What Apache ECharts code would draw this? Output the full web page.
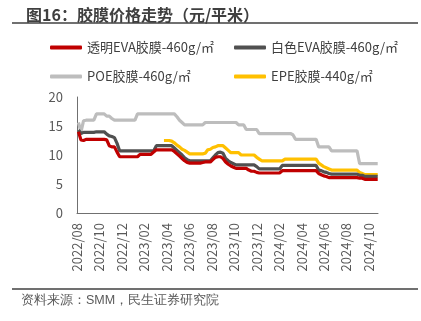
<!DOCTYPE html>
<html>
<head>
<meta charset="utf-8">
<script src="https://cdn.jsdelivr.net/npm/echarts@6/dist/echarts.min.js"></script>
<style>
html,body{margin:0;padding:0;background:#fff;}
#c{width:421px;height:321px;}
</style>
</head>
<body>
<div id="c"></div>
<script>
// Weekly dates (Fridays)
const dates = [
'2022-08-05','2022-08-12','2022-08-19','2022-08-26','2022-09-02','2022-09-09','2022-09-16','2022-09-23','2022-09-30',
'2022-10-07','2022-10-14','2022-10-21','2022-10-28','2022-11-04','2022-11-11','2022-11-18','2022-11-25',
'2022-12-02','2022-12-09','2022-12-16','2022-12-23','2022-12-30',
'2023-01-06','2023-01-13','2023-01-20','2023-01-27','2023-02-03','2023-02-10','2023-02-17','2023-02-24',
'2023-03-03','2023-03-10','2023-03-17','2023-03-24','2023-03-31','2023-04-07','2023-04-14','2023-04-21','2023-04-28',
'2023-05-05','2023-05-12','2023-05-19','2023-05-26','2023-06-02','2023-06-09','2023-06-16','2023-06-23','2023-06-30',
'2023-07-07','2023-07-14','2023-07-21','2023-07-28','2023-08-04','2023-08-11','2023-08-18','2023-08-25',
'2023-09-01','2023-09-08','2023-09-15','2023-09-22','2023-09-29','2023-10-06','2023-10-13','2023-10-20','2023-10-27',
'2023-11-03','2023-11-10','2023-11-17','2023-11-24','2023-12-01','2023-12-08','2023-12-15','2023-12-22','2023-12-29',
'2024-01-05','2024-01-12','2024-01-19','2024-01-26','2024-02-02','2024-02-09','2024-02-16','2024-02-23',
'2024-03-01','2024-03-08','2024-03-15','2024-03-22','2024-03-29','2024-04-05','2024-04-12','2024-04-19','2024-04-26',
'2024-05-03','2024-05-10','2024-05-17','2024-05-24','2024-05-31','2024-06-07','2024-06-14','2024-06-21','2024-06-28',
'2024-07-05','2024-07-12','2024-07-19','2024-07-26','2024-08-02','2024-08-09','2024-08-16','2024-08-23','2024-08-30',
'2024-09-06','2024-09-13','2024-09-20','2024-09-27','2024-10-04','2024-10-11','2024-10-18','2024-10-25'
];

const seriesNames = ['透明EVA胶膜-460g/㎡','白色EVA胶膜-460g/㎡','POE胶膜-460g/㎡','EPE胶膜-440g/㎡'];

const evaClear = [
14.0,12.6,12.5,12.7,12.7,12.7,12.7,12.7,12.7,12.7,
12.7,12.6,11.6,11.4,11.4,10.5,9.7,9.7,9.7,9.7,
9.7,9.7,9.7,9.7,10.1,10.1,10.1,10.1,10.1,10.5,
10.9,10.9,10.9,10.9,10.9,10.9,10.9,10.6,10.2,9.8,
9.4,9.0,8.7,8.6,8.6,8.6,8.6,8.6,8.7,8.8,
8.8,8.8,9.2,9.6,9.7,9.7,9.4,8.8,8.4,8.1,
7.9,7.7,7.7,7.7,7.7,7.7,7.4,7.2,7.2,7.0,
6.9,6.9,6.9,6.9,6.9,6.9,6.9,6.9,6.9,7.3,
7.3,7.3,7.3,7.3,7.3,7.3,7.3,7.3,7.3,7.3,
7.3,7.3,7.3,6.8,6.6,6.4,6.3,6.1,6.1,6.1,
6.1,6.1,6.1,6.1,6.1,6.1,6.1,6.1,6.1,6.0,
6.0,5.8,5.8,5.8,5.8,5.8,5.8
];

const evaWhite = [
14.3,13.7,13.9,13.9,13.9,13.9,13.9,14.0,14.0,14.0,
14.0,13.6,13.3,13.2,13.0,12.0,10.7,10.7,10.7,10.7,
10.7,10.7,10.7,10.7,10.7,10.7,10.7,10.7,10.7,10.7,
11.6,11.6,11.6,11.6,11.6,11.6,11.6,11.2,10.8,10.4,
10.0,9.5,9.2,9.0,9.0,9.0,9.0,9.0,9.0,9.0,
9.0,9.0,9.5,10.0,10.4,10.5,10.3,9.4,9.0,8.7,
8.5,8.3,8.3,8.3,8.3,8.3,8.3,8.3,8.3,8.0,
7.6,7.6,7.6,7.6,7.6,7.6,7.6,7.6,7.6,8.2,
8.2,8.2,8.2,8.2,8.2,8.2,8.2,8.2,8.2,8.2,
8.2,8.2,8.2,7.4,7.3,7.1,7.0,6.8,6.7,6.7,
6.7,6.7,6.7,6.7,6.7,6.7,6.7,6.7,6.7,6.5,
6.5,6.3,6.3,6.3,6.3,6.3,6.3
];

const poe = [
15.6,14.0,15.9,16.0,16.0,16.0,16.0,17.1,17.1,17.1,
17.1,16.7,16.7,16.3,16.0,16.0,16.0,16.0,16.0,16.0,
16.0,16.0,16.0,17.1,17.1,17.1,17.1,17.1,17.1,17.1,
17.1,17.1,17.1,17.1,17.1,17.1,17.1,17.1,16.6,16.0,
15.6,15.2,15.2,15.2,15.2,15.2,15.2,15.2,15.2,15.6,
15.6,15.6,15.6,15.6,15.6,15.6,15.6,15.6,15.6,15.6,
15.6,15.6,15.2,15.2,15.2,14.4,14.4,14.4,14.4,14.4,
13.7,13.7,13.7,13.7,13.7,13.7,13.7,13.7,13.7,13.7,
13.7,13.7,13.7,13.5,12.7,12.7,12.7,12.7,12.7,12.7,
12.7,12.7,12.7,11.4,11.4,11.4,11.4,11.4,10.7,10.7,
10.7,10.7,10.7,10.7,10.7,10.7,10.7,10.7,10.7,8.5,
8.5,8.5,8.5,8.5,8.5,8.5,8.5
];

const epe = [
null,null,null,null,null,null,null,null,null,null,
null,null,null,null,null,null,null,null,null,null,
null,null,null,null,null,null,null,null,null,null,
null,null,null,12.5,12.5,12.5,12.4,12.1,11.7,11.4,
11.0,10.8,10.5,10.2,10.2,10.2,10.2,10.2,10.2,10.3,
10.9,11.0,11.3,11.4,11.6,11.6,11.6,11.2,10.8,10.4,
10.4,10.4,10.4,10.0,10.0,10.0,10.0,10.0,10.0,9.6,
9.3,9.0,9.0,9.0,9.0,9.0,9.0,9.0,9.0,9.0,
9.3,9.3,9.3,9.3,9.3,9.3,9.3,9.3,9.3,9.3,
9.3,9.3,9.3,8.6,8.3,8.0,7.8,7.6,7.4,7.4,
7.4,7.4,7.4,7.4,7.4,7.4,7.4,7.4,7.4,7.0,
6.8,6.6,6.6,6.6,6.6,6.6,6.6
];

const yTicks = [0,5,10,15,20];

// month index since 2022-08-01 (axis unit)
function monthPos(s){
  const [y,m,d] = s.split('-').map(Number);
  const dim = new Date(y, m, 0).getDate();
  return (y-2022)*12 + (m-8) + (d-1)/dim;
}
function monthLabel(v){
  if (Math.abs(v - Math.round(v)) > 1e-6 || Math.round(v) % 2 !== 0) return '';
  const r = Math.round(v);
  const y = 2022 + Math.floor((7 + r)/12);
  const m = (7 + r) % 12 + 1;
  return y + '/' + (m < 10 ? '0' + m : m);
}
function pairs(vals){ return dates.map((d,i)=>[monthPos(d), vals[i]]); }

const FONT = '"Noto Sans CJK SC","Noto Sans",sans-serif';
const colors = ['#C00000','#505050','#BDBDBD','#FFC000'];
const allVals = [evaClear, evaWhite, poe, epe];

const chart = echarts.init(document.getElementById('c'), null, {renderer:'canvas'});
const legendPos = [[50,41],[234,41],[50,70],[234,70]];
chart.setOption({
  animation:false,
  textStyle:{fontFamily:FONT},
  title:{text:'图16：胶膜价格走势（元/平米）', left:21, top:2,
    textStyle:{fontSize:16, fontWeight:'bold', color:'#3f3f3f', fontFamily:FONT}},
  legend: seriesNames.map((n,i)=>({
    data:[n], left:legendPos[i][0], top:legendPos[i][1],
    icon:'roundRect', itemWidth:32, itemHeight:4, padding:0,
    textStyle:{fontSize:13, color:'#404040', fontFamily:FONT}
  })),
  grid:{left:77, right:43, top:97, bottom:108, containLabel:false},
  xAxis:{
    type:'value', min:0, max:26.8, interval:2,
    axisLine:{show:true, lineStyle:{color:'#707070', width:1}},
    axisTick:{show:false}, splitLine:{show:false},
    axisLabel:{rotate:90, fontSize:13, color:'#595959', margin:10, fontFamily:FONT,
      formatter:monthLabel, showMaxLabel:false}
  },
  yAxis:{
    type:'value', min:yTicks[0], max:yTicks[yTicks.length-1], interval:5,
    axisLine:{show:true, lineStyle:{color:'#707070', width:1}},
    axisTick:{show:false}, splitLine:{show:false},
    axisLabel:{fontSize:13, color:'#595959', margin:14, fontFamily:FONT}
  },
  series: seriesNames.map((n,i)=>({
    name:n, type:'line', data:pairs(allVals[i]), showSymbol:false, symbol:'none',
    connectNulls:false,
    lineStyle:{color:colors[i], width:3.2}, itemStyle:{color:colors[i]},
    z: [5,4,2,3][i]
  })),
  graphic:[
    {type:'line', shape:{x1:12,y1:23,x2:418,y2:23}, style:{stroke:'#404040', lineWidth:1.5}},
    {type:'line', shape:{x1:12,y1:289,x2:418,y2:289}, style:{stroke:'#404040', lineWidth:1.5}},
    {type:'text', left:21, top:294, style:{text:'资料来源：SMM，民生证券研究院', fontSize:12.5, fill:'#595959', font:'12.5px ' + FONT}}
  ]
});
</script>
</body>
</html>
